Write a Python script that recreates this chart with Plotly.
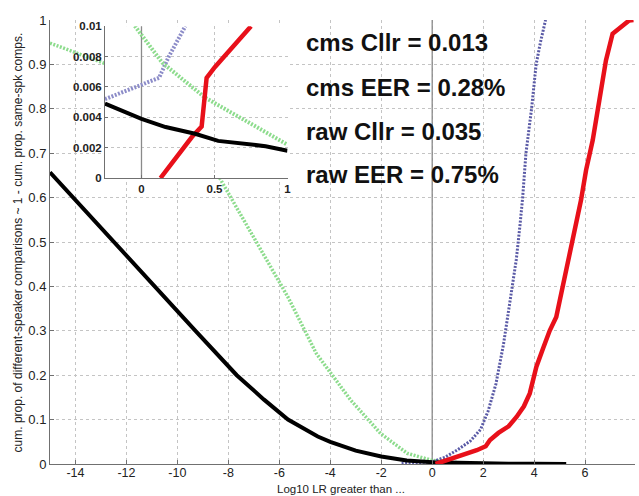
import plotly.graph_objects as go

# ---------------- data ----------------
x_ticks = [-14, -12, -10, -8, -6, -4, -2, 0, 2, 4, 6]
x_tick_labels = ["-14", "-12", "-10", "-8", "-6", "-4", "-2", "0", "2", "4", "6"]
y_ticks = [0, 0.1, 0.2, 0.3, 0.4, 0.5, 0.6, 0.7, 0.8, 0.9, 1]
y_tick_labels = ["0", "0.1", "0.2", "0.3", "0.4", "0.5", "0.6", "0.7", "0.8", "0.9", "1"]

# main curves
black_x = [-15, -14, -12.48, -10.92, -9.29, -7.67, -6.6, -5.66, -4.49, -4, -3, -2, -1, 0, 1, 2, 3, 4, 5.26]
black_y = [0.657, 0.594, 0.5, 0.4, 0.3, 0.2, 0.145, 0.1, 0.062, 0.05, 0.03, 0.017, 0.008, 0.004, 0.0022, 0.0012, 0.0006, 0.0003, 0.0001]

green_x = [-15, -12.85, -12, -11, -10, -9, -8.29, -6.96, -5.92, -5.66, -4.55, -3.97, -3.2, -2.03, -0.98, 0, 1, 2, 2.65]
green_y = [0.948, 0.902, 0.88, 0.84, 0.78, 0.71, 0.639, 0.504, 0.399, 0.376, 0.249, 0.204, 0.144, 0.069, 0.024, 0.008, 0.003, 0.001, 0.0]

blue_x = [-1.2, -0.6, 0, 0.5, 1.0, 1.5, 1.9, 2.2, 2.5, 2.8, 3.05, 3.3, 3.45, 3.55, 3.68, 3.9, 4.08, 4.25, 4.45]
blue_y = [0.001, 0.003, 0.005, 0.015, 0.032, 0.052, 0.078, 0.12, 0.18, 0.27, 0.36, 0.46, 0.54, 0.6, 0.7, 0.8, 0.9, 0.95, 1.0]

red_x = [0.13, 0.6, 1.0, 1.75, 2.1, 2.27, 2.6, 3.0, 3.31, 3.6, 3.83, 4.09, 4.35, 4.61, 4.87, 5.13, 5.39, 5.6, 5.84, 6.04, 6.3, 6.56, 6.82, 7.08, 7.4, 7.73, 7.9]
red_y = [0, 0.009, 0.016, 0.031, 0.04, 0.054, 0.07, 0.085, 0.106, 0.13, 0.159, 0.219, 0.26, 0.30, 0.331, 0.399, 0.474, 0.52, 0.594, 0.662, 0.729, 0.819, 0.909, 0.969, 0.985, 0.999, 1.0]

# inset
inset_x_ticks = [0, 0.5, 1]
inset_x_labels = ["0", "0.5", "1"]
inset_y_ticks = [0, 0.002, 0.004, 0.006, 0.008, 0.01]
inset_y_labels = ["0", "0.002", "0.004", "0.006", "0.008", "0.01"]

in_black_x = [-0.25, -0.15, 0, 0.165, 0.367, 0.525, 0.728, 0.85, 1.0]
in_black_y = [0.0049, 0.0045, 0.0039, 0.00336, 0.00292, 0.00245, 0.00222, 0.0021, 0.0018]
in_green_x = [-0.06, 0.142, 0.435, 0.705, 1.0]
in_green_y = [0.0102, 0.0076, 0.0053, 0.0038, 0.0022]
in_blue_x = [-0.25, -0.016, 0.12, 0.187, 0.3]
in_blue_y = [0.0052, 0.0061, 0.0066, 0.008, 0.01]
in_red_x = [0.13, 0.345, 0.412, 0.446, 0.502, 0.75]
in_red_y = [0, 0.0027, 0.0034, 0.0066, 0.0073, 0.01]

stats = ["cms Cllr = 0.013", "cms EER = 0.28%", "raw Cllr = 0.035", "raw EER = 0.75%"]

# ---------------- styles ----------------
FONT = "Liberation Sans, Arial, sans-serif"
BLACK = "#000000"
RED = "#e8101a"
GREEN = "#8ddc8d"
BLUE_MAIN = "#5a5aa6"
BLUE_INSET = "#8c8cc8"
GRID = "#c4c4c4"
ZERO = "#8a8a8a"
AXIS = "#707070"

fig = go.Figure()

# main zero line
fig.add_trace(go.Scatter(x=[0, 0], y=[0, 1], mode="lines", line=dict(color=ZERO, width=1.3),
                         xaxis="x", yaxis="y", hoverinfo="skip"))
fig.add_trace(go.Scatter(x=green_x, y=green_y, mode="lines",
                         line=dict(color=GREEN, width=3.5, dash="2px,1.5px"), xaxis="x", yaxis="y"))
fig.add_trace(go.Scatter(x=blue_x, y=blue_y, mode="lines",
                         line=dict(color=BLUE_MAIN, width=3, dash="2px,1.5px"), xaxis="x", yaxis="y"))
fig.add_trace(go.Scatter(x=black_x, y=black_y, mode="lines", line=dict(color=BLACK, width=4),
                         xaxis="x", yaxis="y"))
fig.add_trace(go.Scatter(x=red_x, y=red_y, mode="lines", line=dict(color=RED, width=4.5),
                         xaxis="x", yaxis="y"))

# inset traces
fig.add_trace(go.Scatter(x=[0, 0], y=[0, 0.01], mode="lines", line=dict(color=ZERO, width=1.3),
                         xaxis="x2", yaxis="y2", hoverinfo="skip"))
fig.add_trace(go.Scatter(x=in_blue_x, y=in_blue_y, mode="lines",
                         line=dict(color=BLUE_INSET, width=4, dash="2px,1.5px"), xaxis="x2", yaxis="y2"))
fig.add_trace(go.Scatter(x=in_green_x, y=in_green_y, mode="lines",
                         line=dict(color=GREEN, width=4, dash="2px,1.5px"), xaxis="x2", yaxis="y2"))
fig.add_trace(go.Scatter(x=in_red_x, y=in_red_y, mode="lines", line=dict(color=RED, width=4.5),
                         xaxis="x2", yaxis="y2"))
fig.add_trace(go.Scatter(x=in_black_x, y=in_black_y, mode="lines", line=dict(color=BLACK, width=4),
                         xaxis="x2", yaxis="y2"))

# white background for the inset
fig.add_shape(type="rect", xref="x2", yref="y2", x0=-0.25, x1=1, y0=0, y1=0.01,
              fillcolor="white", line=dict(width=0), layer="below")

# stats text
stat_y = [0.950, 0.849, 0.750, 0.651]
for t, yy in zip(stats, stat_y):
    fig.add_annotation(text=t, xref="paper", yref="paper", x=0.435, y=yy, xanchor="left",
                       yanchor="middle", showarrow=False,
                       font=dict(family=FONT, size=24, color="#111111", weight="bold"))

# axis titles
fig.add_annotation(text="cum. prop. of different-speaker comparisons ~ 1 - cum. prop. same-spk comps.",
                   xref="paper", yref="paper", x=-0.054, y=0.5, textangle=-90,
                   xanchor="center", yanchor="middle", showarrow=False,
                   font=dict(family=FONT, size=12, color="#222222"))
fig.add_annotation(text="Log10 LR greater than ...", xref="paper", yref="paper",
                   x=0.4975, y=-0.056, xanchor="center", yanchor="middle", showarrow=False,
                   font=dict(family=FONT, size=11.5, color="#222222"))

grid_common = dict(showgrid=True, gridcolor=GRID, griddash="dot", gridwidth=1,
                   showline=True, linecolor=AXIS, linewidth=1, ticks="inside",
                   tickcolor=AXIS, zeroline=False)

fig.update_layout(
    width=639, height=496,
    margin=dict(l=50, r=0, t=20, b=32),
    paper_bgcolor="white", plot_bgcolor="white",
    showlegend=False,
    font=dict(family=FONT, color="#222222"),
    xaxis=dict(domain=[0, 1], range=[-15, 7.96], tickvals=x_ticks, ticktext=x_tick_labels,
               ticklen=4, ticklabelstandoff=-3,
               tickfont=dict(size=12.5, family=FONT, color="#222222"), **grid_common),
    yaxis=dict(domain=[0, 1], range=[0, 1], tickvals=y_ticks, ticktext=y_tick_labels,
               ticklen=4, tickfont=dict(size=13, family=FONT, color="#222222"), **grid_common),
    xaxis2=dict(domain=[0.094, 0.406], anchor="y2", range=[-0.25, 1], tickvals=inset_x_ticks,
                ticktext=inset_x_labels, ticklen=3,
                tickfont=dict(size=11.5, family=FONT, color="#222222", weight="bold"), **grid_common),
    yaxis2=dict(domain=[0.644, 0.986], anchor="x2", range=[0, 0.01], tickvals=inset_y_ticks,
                ticktext=inset_y_labels, ticklen=3,
                tickfont=dict(size=11.5, family=FONT, color="#222222", weight="bold"), **grid_common),
)

fig.write_html("out.html", config={"displayModeBar": False},
               post_script="document.body.style.margin='0';document.body.style.padding='0';")
